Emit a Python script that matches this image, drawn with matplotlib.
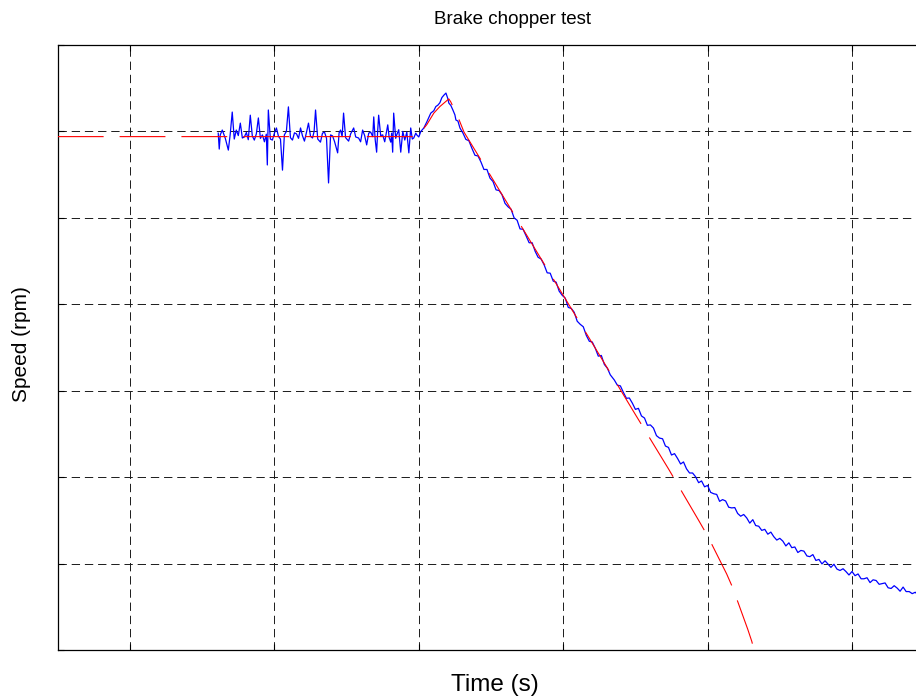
import matplotlib
matplotlib.use('Agg')
import matplotlib.pyplot as plt

plt.rcParams['font.family'] = ['Liberation Sans', 'DejaVu Sans']
plt.rcParams['lines.scale_dashes'] = False

# Measured speed (blue), time in s, speed in rpm
t_meas = [
    1.611, 1.618, 1.625, 1.639, 1.660, 1.681, 1.694, 1.708, 1.722, 1.736,
    1.750, 1.764, 1.778, 1.792, 1.806, 1.819, 1.833, 1.847, 1.861, 1.875,
    1.889, 1.903, 1.917, 1.931, 1.944, 1.951, 1.958, 1.972, 1.986, 2.000,
    2.014, 2.028, 2.042, 2.056, 2.069, 2.083, 2.097, 2.111, 2.125, 2.139,
    2.153, 2.167, 2.181, 2.194, 2.208, 2.222, 2.236, 2.250, 2.264, 2.275,
    2.285, 2.300, 2.319, 2.333, 2.347, 2.361, 2.375, 2.389, 2.403, 2.417,
    2.438, 2.448, 2.458, 2.469, 2.479, 2.493, 2.514, 2.528, 2.549, 2.563,
    2.583, 2.597, 2.611, 2.625, 2.639, 2.653, 2.667, 2.681, 2.688, 2.698,
    2.708, 2.715, 2.722, 2.736, 2.750, 2.764, 2.785, 2.795, 2.806, 2.812,
    2.819, 2.826, 2.840, 2.847, 2.861, 2.875, 2.889, 2.903, 2.917, 2.931,
    2.944, 2.955, 2.965, 2.979, 2.986, 3.000,
    3.014, 3.035, 3.056, 3.069, 3.083, 3.104, 3.118, 3.132, 3.146, 3.160,
    3.174, 3.188, 3.201, 3.208, 3.222, 3.236, 3.250, 3.257, 3.271, 3.285,
    3.306, 3.326, 3.347, 3.368, 3.389, 3.410, 3.431, 3.451, 3.472, 3.493,
    3.514, 3.535, 3.556, 3.576, 3.597, 3.618, 3.639, 3.660, 3.681, 3.701,
    3.722, 3.743, 3.764, 3.785, 3.806, 3.826, 3.847, 3.868, 3.889, 3.910,
    3.931, 3.951, 3.972, 3.993, 4.014, 4.035, 4.056, 4.076, 4.097, 4.118,
    4.139, 4.160, 4.181, 4.201, 4.222, 4.243, 4.264, 4.285, 4.306, 4.326,
    4.354, 4.375, 4.396, 4.417, 4.438, 4.458, 4.479, 4.500, 4.521, 4.542,
    4.563, 4.583, 4.604, 4.625, 4.646, 4.667, 4.688, 4.708, 4.729, 4.750,
    4.771, 4.792, 4.813, 4.833, 4.854, 4.875, 4.896, 4.917, 4.938, 4.958,
    4.979, 5.000, 5.021, 5.042, 5.063, 5.083, 5.104, 5.125, 5.146, 5.167,
    5.188, 5.208, 5.229, 5.250, 5.271, 5.292, 5.313, 5.333, 5.354, 5.375,
    5.396, 5.417, 5.438, 5.458, 5.479, 5.500, 5.521, 5.542, 5.563, 5.583,
    5.604, 5.625, 5.646, 5.667, 5.688, 5.708, 5.729, 5.750, 5.771, 5.792,
    5.813, 5.833, 5.854, 5.875, 5.896, 5.917, 5.938, 5.958, 5.979, 6.000,
    6.021, 6.042, 6.063, 6.083, 6.104, 6.125, 6.146, 6.167, 6.188, 6.208,
    6.229, 6.250, 6.271, 6.292, 6.313, 6.333, 6.354, 6.375, 6.396, 6.417,
    6.438, 6.458, 6.480,
]
n_meas = [
    1495, 1449, 1490, 1504, 1480, 1446, 1492, 1556, 1478, 1504,
    1488, 1524, 1481, 1484, 1497, 1476, 1547, 1487, 1475, 1493,
    1539, 1480, 1490, 1470, 1492, 1403, 1562, 1478, 1475, 1495,
    1510, 1486, 1478, 1388, 1490, 1500, 1571, 1482, 1475, 1496,
    1493, 1480, 1510, 1488, 1472, 1497, 1524, 1486, 1481, 1500,
    1562, 1478, 1469, 1495, 1498, 1480, 1351, 1490, 1487, 1470,
    1438, 1496, 1504, 1485, 1553, 1482, 1472, 1493, 1510, 1484,
    1481, 1470, 1504, 1488, 1461, 1495, 1498, 1485, 1542, 1476,
    1440, 1500, 1547, 1488, 1490, 1470, 1519, 1482, 1469, 1495,
    1440, 1553, 1480, 1490, 1505, 1440, 1500, 1475, 1498, 1438,
    1510, 1478, 1481, 1495, 1490, 1484,
    1500, 1510, 1528, 1540, 1553, 1560, 1572, 1576, 1583, 1598,
    1605, 1611, 1595, 1582, 1575, 1562, 1548, 1533, 1530, 1510,
    1495, 1477, 1473, 1451, 1431, 1429, 1411, 1390, 1390, 1365,
    1355, 1331, 1329, 1317, 1292, 1282, 1275, 1250, 1243, 1218,
    1217, 1198, 1178, 1178, 1153, 1136, 1131, 1114, 1091, 1090,
    1067, 1064, 1038, 1026, 1018, 991, 988, 977, 951, 942,
    935, 910, 893, 891, 873, 850, 852, 826, 815, 796,
    781, 766, 764, 745, 728, 729, 714, 696, 699, 677,
    671, 650, 651, 642, 620, 613, 611, 590, 586, 564,
    568, 554, 538, 544, 524, 512, 512, 501, 484, 489,
    472, 476, 456, 452, 450, 430, 435, 431, 413, 411,
    412, 395, 387, 392, 382, 367, 377, 360, 358, 346,
    349, 335, 341, 328, 318, 323, 315, 301, 310, 296,
    298, 282, 288, 286, 272, 270, 276, 259, 262, 249,
    258, 249, 239, 248, 234, 230, 235, 227, 217, 227,
    215, 220, 206, 206, 209, 195, 203, 201, 190, 192,
    194, 180, 178, 186, 179, 170, 182, 169, 169, 163,
    167, 159, 162,
]

# Model speed (red dashed)
t_model = [0.5, 3.000, 3.014, 3.056, 3.104, 3.146, 3.174, 3.208, 3.222, 3.250,
           3.271, 3.313, 3.500, 3.750, 4.000, 4.250, 4.500, 4.729, 4.938, 5.000,
           5.132, 5.174, 5.278, 5.306, 5.340]
n_model = [1485, 1485, 1498, 1520, 1553, 1572, 1582, 1594, 1585, 1560,
           1542, 1498, 1370, 1198, 1026, 854, 681, 524, 375, 330,
           220, 180, 60, 25, -30]

x_grid = [1, 2, 3, 4, 5, 6]
y_grid = [0, 250, 500, 750, 1000, 1250, 1500, 1750]


fig = plt.figure(figsize=(9.16, 7.00), dpi=100)
ax = fig.add_axes([58 / 916, 50 / 700, 858 / 916, 605 / 700])

ax.plot(t_meas, n_meas, color='#0000ff', lw=0.9, zorder=3)
ax.plot(t_model, n_model, color='#ff0000', lw=0.8, linestyle=(0, (33, 11.5)), zorder=4)

ax.set_xlim(1 - 72 / 144.4, 1 + 786 / 144.4)
ax.set_ylim(0, 1750)
ax.set_xticks(x_grid)
ax.set_yticks(y_grid)
ax.set_xticklabels([])
ax.set_yticklabels([])
ax.tick_params(direction='in', length=4, width=0.8, top=True, right=False)
ax.grid(True, color='#1a1a1a', lw=0.7, linestyle=(0, (6, 3.5)))
ax.spines['right'].set_visible(False)
for s in ['left', 'top', 'bottom']:
    ax.spines[s].set_linewidth(0.9)

fig.text(513 / 916, 1 - 20 / 700, 'Brake chopper test', ha='center', va='center', fontsize=13.5)
fig.text(495 / 916, 1 - 685 / 700, 'Time (s)', ha='center', va='center', fontsize=17.5)
fig.text(22 / 916, 1 - 344 / 700, 'Speed (rpm)', ha='center', va='center', rotation=90, fontsize=15)

fig.savefig('out.png', dpi=100)
